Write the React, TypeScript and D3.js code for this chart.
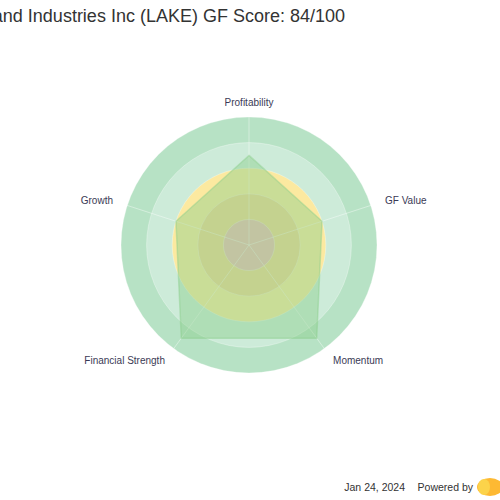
import { useEffect, useRef } from "react";
import * as d3 from "d3";

// GF Score radar for LAKE
const axes = ["Profitability", "GF Value", "Momentum", "Financial Strength", "Growth"];
const scores = [7, 6, 9, 9, 6];
const ringEdges = [10, 8, 6, 4, 2];
const ringColors = ["#b7e2c5", "#cdebd9", "#fce9a0", "#f2d592", "#eebcb4"];
const title = "Lakeland Industries Inc (LAKE) GF Score: 84/100";
const dateLabel = "Jan 24, 2024";
const poweredLabel = "Powered by";

const App = () => {
	const svgRef = useRef<SVGSVGElement>(null);

	useEffect(() => {
		if (!svgRef.current) return;
		document.body.style.margin = "0";

		const width = 500;
		const height = 500;
		const cx = 249;
		const cy = 245;
		const outer = 128;

		const svg = d3.select(svgRef.current).attr("width", width).attr("height", height);
		svg.selectAll("*").remove();

		const font = "'Liberation Sans', Arial, sans-serif";

		// Echelle radiale et angles
		const r = d3.scaleLinear().domain([0, 10]).range([0, outer]);
		const angle = d3
			.scaleLinear()
			.domain([0, axes.length])
			.range([0, 2 * Math.PI]);

		const g = svg.append("g").attr("transform", `translate(${cx},${cy})`);

		// Anneaux de fond
		ringEdges.forEach((edge, i) => {
			g.append("circle")
				.attr("r", r(edge))
				.attr("fill", ringColors[i]);
		});

		// Cercles de grille
		ringEdges.forEach((edge) => {
			g.append("circle")
				.attr("r", r(edge))
				.attr("fill", "none")
				.attr("stroke", "#ffffff")
				.attr("stroke-opacity", 0.3)
				.attr("stroke-width", 1);
		});

		// Lignes des axes
		axes.forEach((_a, i) => {
			const a = angle(i);
			g.append("line")
				.attr("x1", 0)
				.attr("y1", 0)
				.attr("x2", r(10) * Math.sin(a))
				.attr("y2", -r(10) * Math.cos(a))
				.attr("stroke", "#ffffff")
				.attr("stroke-opacity", 0.4)
				.attr("stroke-width", 1);
		});

		// Polygone des scores
		const radar = d3
			.lineRadial<number>()
			.angle((_d, i) => angle(i))
			.radius((d) => r(d))
			.curve(d3.curveLinearClosed);

		g.append("path")
			.attr("d", radar(scores))
			.attr("fill", "#8ccf8c")
			.attr("fill-opacity", 0.45)
			.attr("stroke", "#8ccf8c")
			.attr("stroke-opacity", 0.45)
			.attr("stroke-width", 1.5);

		// Libellés des axes
		axes.forEach((label, i) => {
			const a = angle(i);
			const lr = outer + 15;
			const x = lr * Math.sin(a);
			const y = -lr * Math.cos(a);
			const s = Math.sin(a);
			const anchor = Math.abs(s) < 0.01 ? "middle" : s > 0 ? "start" : "end";
			g.append("text")
				.attr("x", x)
				.attr("y", y)
				.attr("dy", "0.35em")
				.attr("text-anchor", anchor)
				.attr("font-family", font)
				.attr("font-size", "10px")
				.attr("fill", "#3a3a55")
				.text(label);
		});

		// Titre (coupé à gauche comme la référence)
		svg.append("text")
			.attr("x", 345)
			.attr("y", 22)
			.attr("text-anchor", "end")
			.attr("font-family", font)
			.attr("font-size", "18px")
			.attr("fill", "#333333")
			.text(title);

		// Pied de page
		svg.append("text")
			.attr("x", 405)
			.attr("y", 491)
			.attr("text-anchor", "end")
			.attr("font-family", font)
			.attr("font-size", "10.5px")
			.attr("fill", "#333333")
			.text(dateLabel);

		svg.append("text")
			.attr("x", 473)
			.attr("y", 491)
			.attr("text-anchor", "end")
			.attr("font-family", font)
			.attr("font-size", "10.5px")
			.attr("fill", "#333333")
			.text(poweredLabel);

		svg.append("ellipse")
			.attr("cx", 490)
			.attr("cy", 487)
			.attr("rx", 13)
			.attr("ry", 9)
			.attr("fill", "#fdb933");
		svg.append("ellipse")
			.attr("cx", 484)
			.attr("cy", 487)
			.attr("rx", 6)
			.attr("ry", 8)
			.attr("fill", "#fcd34a");
	}, []);

	return (
		<svg
			ref={svgRef}
			style={{ position: "absolute", left: 0, top: 0, background: "#ffffff" }}
		></svg>
	);
};

export default App;
